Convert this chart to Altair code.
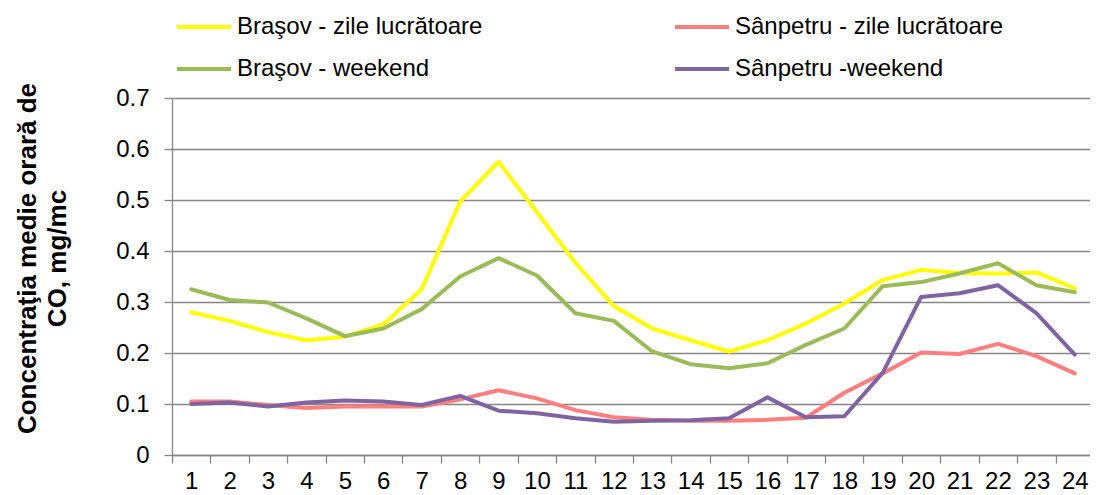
import altair as alt
import pandas as pd

hours = list(range(1, 25))

series_names = [
    "Braşov - zile lucrătoare",
    "Braşov - weekend",
    "Sânpetru - zile lucrătoare",
    "Sânpetru -weekend",
]
series_colors = ["#FFFF00", "#9BBB59", "#FF7F7F", "#8064A2"]

brasov_lucr = [0.280, 0.263, 0.241, 0.225, 0.232, 0.256, 0.325, 0.497, 0.575, 0.476, 0.377, 0.292,
               0.248, 0.225, 0.203, 0.225, 0.258, 0.297, 0.343, 0.363, 0.357, 0.356, 0.358, 0.327]
brasov_wkd = [0.325, 0.304, 0.299, 0.268, 0.233, 0.248, 0.286, 0.350, 0.386, 0.352, 0.278, 0.263,
              0.203, 0.178, 0.170, 0.180, 0.216, 0.248, 0.331, 0.339, 0.356, 0.376, 0.333, 0.319]
sanpetru_lucr = [0.105, 0.105, 0.098, 0.092, 0.095, 0.095, 0.095, 0.109, 0.127, 0.111, 0.088, 0.074,
                 0.069, 0.067, 0.067, 0.069, 0.073, 0.122, 0.160, 0.201, 0.198, 0.218, 0.194, 0.160]
sanpetru_wkd = [0.100, 0.103, 0.095, 0.103, 0.107, 0.105, 0.098, 0.116, 0.087, 0.082, 0.072, 0.065,
                0.067, 0.068, 0.072, 0.113, 0.074, 0.076, 0.161, 0.310, 0.317, 0.333, 0.278, 0.197]

y_ticks = [0, 0.1, 0.2, 0.3, 0.4, 0.5, 0.6, 0.7]
y_title = ["Concentraţia medie orară de", "CO, mg/mc"]

values = [brasov_lucr, brasov_wkd, sanpetru_lucr, sanpetru_wkd]
rows = []
for k, (name, vals) in enumerate(zip(series_names, values)):
    for h, v in zip(hours, vals):
        rows.append({"ora": h, "val": v, "serie": name, "k": k})
df = pd.DataFrame(rows)

FONT = "Liberation Sans"
GRID = "#868686"

chart = alt.Chart(df).mark_line(strokeWidth=4, strokeJoin="round", strokeCap="round").encode(
    x=alt.X(
        "ora:O",
        sort=hours,
        bandPosition=0.5,
        scale=alt.Scale(type="band", range=[0, 922], paddingInner=0, paddingOuter=0),
        axis=alt.Axis(
            title=None, labelAngle=0, tickBand="extent", tickSize=8, tickColor=GRID,
            domainColor=GRID, domainWidth=1.3, tickWidth=1.3, grid=False,
            labelFont=FONT, labelFontSize=24, labelColor="black", labelPadding=6,
        ),
    ),
    y=alt.Y(
        "val:Q",
        scale=alt.Scale(domain=[0, 0.7], nice=False, zero=True),
        axis=alt.Axis(
            values=y_ticks, labelExpr="datum.value == 0 ? '0' : format(datum.value, '.1f')",
            title=y_title, titleFont=FONT, titleFontSize=26, titleFontWeight="bold",
            titleColor="black", titleLineHeight=30, titleAngle=-90, titleX=-145, titleY=160,
            titleAlign="center", titleBaseline="middle",
            tickSize=8, tickColor=GRID, tickWidth=1.3, domainColor=GRID, domainWidth=1.3,
            grid=True, gridColor=GRID, gridWidth=1.3,
            labelFont=FONT, labelFontSize=24, labelColor="black", labelPadding=15,
        ),
    ),
    color=alt.Color(
        "serie:N",
        scale=alt.Scale(domain=series_names, range=series_colors),
        legend=alt.Legend(
            orient="none", legendX=3, legendY=-83, columns=2, title=None,
            symbolType="stroke", symbolSize=2916, symbolStrokeWidth=4,
            labelFont=FONT, labelFontSize=24, labelColor="black", labelOffset=4,
            columnPadding=190, rowPadding=18, clipHeight=24, labelLimit=500, padding=0,
        ),
    ),
    order=alt.Order("k:Q"),
).properties(
    width=918,
    height=357,
    padding={"left": 164, "top": 90, "right": 0, "bottom": 40},
    autosize="none",
).configure_view(stroke=None)

chart.save("out.html", embed_options={"renderer": "svg", "actions": False})
